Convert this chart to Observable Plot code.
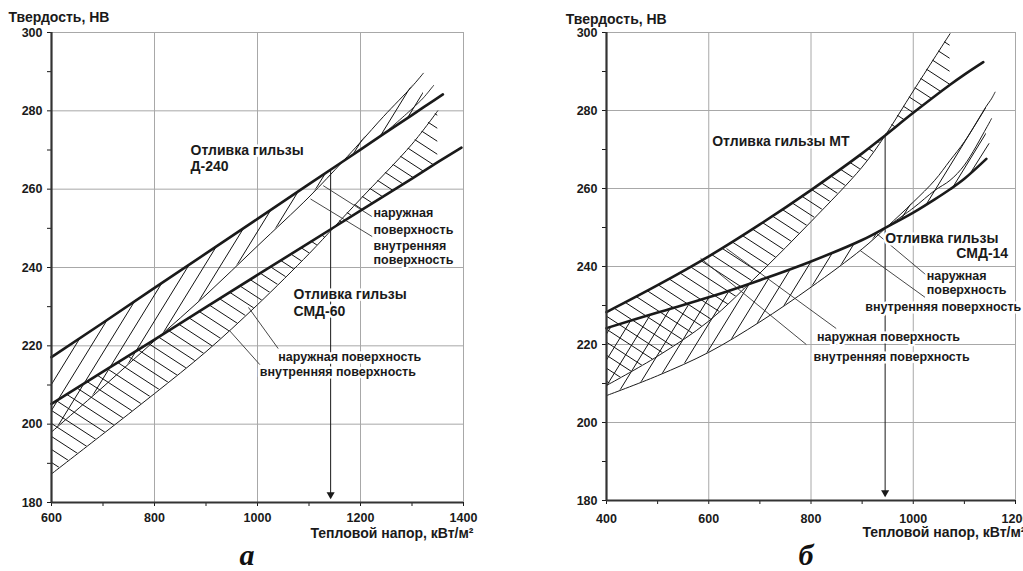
<!DOCTYPE html>
<html><head><meta charset="utf-8">
<script src="https://cdn.jsdelivr.net/npm/d3@7"></script>
<script src="https://cdn.jsdelivr.net/npm/@observablehq/plot@0.6"></script>
<style>
body{margin:0;background:#fff;width:1023px;height:571px;overflow:hidden;position:relative;font-family:"Liberation Sans",Arial,sans-serif;}
#pa,#pb{position:absolute;top:0}
#pa{left:0}
#pb{left:540px;width:483px;overflow:hidden}
.lab{position:absolute;width:40px;text-align:center;font-family:"Liberation Serif","Times New Roman",serif;font-style:italic;font-weight:bold;font-size:30px;line-height:28px;color:#111}
</style></head><body>
<svg width="0" height="0" style="position:absolute">
<defs>
<pattern id="hatchBack" patternUnits="userSpaceOnUse" width="20" height="13">
<path d="M0,0L20,13M-20,0L0,13M20,0L40,13M0,-13L20,0M0,13L20,26" stroke="#111" stroke-width="1" fill="none"/>
</pattern>
<pattern id="hatchSteep" patternUnits="userSpaceOnUse" width="16" height="26">
<path d="M0,26L16,0M-16,26L0,0M16,26L32,0M0,52L16,26M0,0L16,-26" stroke="#111" stroke-width="1" fill="none"/>
</pattern>
</defs></svg>
<div id="pa"></div>
<div id="pb"></div>
<div class="lab" style="left:227px;top:541px">а</div>
<div class="lab" style="left:786px;top:541px">б</div>
<script>
// ---------- common ticks ----------
const yTicks = [180, 200, 220, 240, 260, 280, 300];
const yAll = [180, 190, 200, 210, 220, 230, 240, 250, 260, 270, 280, 290, 300];
const xTicksA = [600, 800, 1000, 1200, 1400];
const xAllA = [600, 700, 800, 900, 1000, 1100, 1200, 1300, 1400];
const xTicksB = [400, 600, 800, 1000, 1200];
const xAllB = [400, 500, 600, 700, 800, 900, 1000, 1100, 1200];
const yTitle = "Твердость, НВ";
const xTitle = "Тепловой напор, кВт/м²";

// ---------- panel а ----------
const xD240 = [600, 700, 800, 900, 1000, 1100, 1165, 1200, 1245, 1300, 1322, 1342, 1360];
const d240Thick = [217.1, 225.9, 234.8, 243.6, 252.4, 261.3, 267, 270.1, 274.1, 278.9, 280.9, 282.6, 284.2];
const d240Thin1 = [198, 209.5, 221.3, 233, 245.5, 258, 267, 272, 278.6, 286.2, 289.6, null, null];
const d240Thin2 = [null, null, null, null, null, null, null, null, 274.1, 280.5, 283.3, 286.5, null];
const xS60 = [600, 700, 800, 900, 1000, 1100, 1150, 1200, 1300, 1350, 1396];
const s60Thick = [205.2, 213.4, 221.6, 229.9, 238.1, 246.3, 250.4, 254.5, 262.7, 266.9, 270.6];
const s60Thin = [187.3, 197.5, 207.8, 218.5, 230.5, 243.5, 250.5, 257.5, 271.5, 280, null];
const arrowA = [{x: 1142, y1: 265, y2: 181.5, tip: 182}];
const leadersA = [
  {x1: 1127.6, y1: 260.9, x2: 1225.8, y2: 252.7},
  {x1: 1102.9, y1: 257.5, x2: 1222.7, y2: 247.9},
  {x1: 982.5, y1: 229.8, x2: 1040.2, y2: 219.3},
  {x1: 945.6, y1: 223.9, x2: 1004.5, y2: 215.2}
];
const bigLabelsA = [
  {t: "Отливка гильзы", x: 869.9, y: 269.9},
  {t: "Д-240", x: 869.9, y: 265.8},
  {t: "Отливка гильзы", x: 1069.9, y: 233.1},
  {t: "СМД-60", x: 1069.9, y: 228.8}
];
const smallLabelsA = [
  {t: "наружная", x: 1225.2, y: 253.8},
  {t: "поверхность", x: 1225.2, y: 249.7},
  {t: "внутренняя", x: 1225.2, y: 245.6},
  {t: "поверхность", x: 1225.2, y: 241.8},
  {t: "наружная поверхность", x: 1040.2, y: 217.1},
  {t: "внутренняя поверхность", x: 1004.5, y: 213.3}
];

// ---------- panel б ----------
const xMT = [400, 500, 600, 700, 800, 900, 945, 1000, 1072, 1100, 1137];
const mtThick = [228.3, 235.2, 242.6, 250.8, 259.6, 269, 273.6, 279.4, 286.6, 289.2, 292.4];
const mtThin = [209.5, 217, 226, 238.3, 251.5, 265.5, 273.6, 285, 299.7, null, null];
const xS14 = [400, 500, 600, 700, 800, 900, 948, 1000, 1042, 1072, 1100, 1143, 1153, 1160];
const s14Thick = [224.2, 228.2, 232.1, 236.5, 241.3, 246.8, 250.1, 253.8, 257.2, 259.8, 262.5, 267.6, null, null];
const s14Thin1 = [206.9, 212, 218, 225.8, 234.7, 244.5, 250.1, 256.5, 262.1, 267.2, 272, 281.1, 283, 284.7];
const s14Thin2 = [null, null, null, null, null, null, 250.1, 255, 259.5, 262.1, 266, 275.5, 277.9, null];
const xS14b = [1111, 1148];
const s14Thin3 = [263.8, 271.5];
const arrowB = [{x: 945, y1: 273.6, y2: 181.5, tip: 182}];
const leadersB = [
  {x1: 928.9, y1: 248.4, x2: 1026.3, y2: 237.7},
  {x1: 896.2, y1: 244.1, x2: 1023, y2: 232.1},
  {x1: 634.7, y1: 244.6, x2: 849.3, y2: 224.1},
  {x1: 584, y1: 242.1, x2: 790.8, y2: 220}
];
const bigLabelsB = [
  {t: "Отливка гильзы МТ", x: 606.8, y: 272.1},
  {t: "Отливка гильзы", x: 945, y: 247.1}
];
const bigLabelsBEnd = [
  {t: "СМД-14", x: 1185.6, y: 243.3}
];
const smallLabelsB = [
  {t: "наружная", x: 1026.3, y: 237.6},
  {t: "поверхность", x: 1026.3, y: 234},
  {t: "внутренняя поверхность", x: 906, y: 229.6},
  {t: "наружная поверхность", x: 811.7, y: 221.8},
  {t: "внутренняя поверхность", x: 805, y: 216.9}
];

// ---------- helpers ----------
function table(xs, cols) {
  return xs.map((x, i) => {
    const r = {x};
    for (const k in cols) r[k] = cols[k][i];
    return r;
  });
}
const ink = "#1a1a1a";
const gridC = "#a8a8a8";
const font = "Liberation Sans, Arial, sans-serif";
const style = {fontFamily: font, fontSize: "12.5px", fontWeight: "bold", background: "transparent", color: ink, overflow: "visible"};
const lbl = {fontWeight: "bold", fill: ink, stroke: "white", strokeWidth: 5};

function commonMarks(xGrid, xAll, xTicks, tickPadX, xTitleD, yTitleD) {
  return {
    grid: [
      Plot.gridX(xGrid, {stroke: gridC, strokeOpacity: 1, strokeWidth: 1}),
      Plot.gridY([200, 220, 240, 260, 280, 300], {stroke: gridC, strokeOpacity: 1, strokeWidth: 1})
    ],
    axes: [
      Plot.axisX(xAll, {tickSize: 4, tickPadding: tickPadX, label: null, tickFormat: d => xTicks.includes(d) ? String(d) : "", fontSize: 12.5, fontWeight: "bold"}),
      Plot.axisY(yAll, {tickSize: 4, tickPadding: 5, label: null, tickFormat: d => yTicks.includes(d) ? String(d) : "", fontSize: 12.5, fontWeight: "bold"}),
      Plot.ruleX([xAll[0]], {stroke: "#333", strokeWidth: 2.2}),
      Plot.ruleY([180], {stroke: "#333", strokeWidth: 2.2}),
      Plot.text([yTitle], {text: d => d, frameAnchor: "top-left", dx: yTitleD[0], dy: yTitleD[1], textAnchor: "start", lineAnchor: "middle", fontSize: 14, fontWeight: "bold", fill: ink}),
      Plot.text([xTitle], {text: d => d, frameAnchor: "bottom-right", dx: xTitleD[0], dy: xTitleD[1], textAnchor: "end", lineAnchor: "middle", fontSize: 14, fontWeight: "bold", fill: ink})
    ]
  };
}

// ---------- panel а ----------
const tD240 = table(xD240, {thick: d240Thick, thin1: d240Thin1, thin2: d240Thin2});
const tS60 = table(xS60, {thick: s60Thick, thin: s60Thin});
const cA = commonMarks([800, 1000, 1200, 1400], xAllA, xTicksA, 6.5, [10, 31], [-43, -15]);
const plotA = Plot.plot({
  width: 500, height: 545,
  marginLeft: 51, marginRight: 37, marginTop: 32, marginBottom: 43,
  style,
  x: {domain: [600, 1400]},
  y: {domain: [180, 300]},
  marks: [
    ...cA.grid,
    Plot.areaY(tD240, {x: "x", y1: "thick", y2: "thin1", fill: "url(#hatchSteep)", curve: "catmull-rom"}),
    Plot.areaY(tS60, {x: "x", y1: "thick", y2: "thin", fill: "url(#hatchBack)", curve: "catmull-rom"}),
    Plot.line(tD240, {x: "x", y: "thin1", stroke: ink, strokeWidth: 1, curve: "catmull-rom"}),
    Plot.line(tD240, {x: "x", y: "thin2", stroke: ink, strokeWidth: 0.9, curve: "catmull-rom"}),
    Plot.line(tS60, {x: "x", y: "thin", stroke: ink, strokeWidth: 1, curve: "catmull-rom"}),
    Plot.ruleX(arrowA, {x: "x", y1: "y1", y2: "y2", stroke: ink, strokeWidth: 1}),
    Plot.dot(arrowA, {x: "x", y: "tip", symbol: "triangle", rotate: 180, r: 3, fill: ink, stroke: null}),
    Plot.link(leadersA, {x1: "x1", y1: "y1", x2: "x2", y2: "y2", stroke: "#333", strokeWidth: 0.9}),
    Plot.line(tD240, {x: "x", y: "thick", stroke: ink, strokeWidth: 2.6}),
    Plot.line(tS60, {x: "x", y: "thick", stroke: ink, strokeWidth: 2.6}),
    Plot.text(bigLabelsA, {x: "x", y: "y", text: "t", textAnchor: "start", fontSize: 14, ...lbl}),
    Plot.text(smallLabelsA, {x: "x", y: "y", text: "t", textAnchor: "start", fontSize: 12.5, ...lbl}),
    ...cA.axes
  ]
});
document.getElementById("pa").append(plotA);

// ---------- panel б ----------
const tMT = table(xMT, {thick: mtThick, thin: mtThin});
const tS14 = table(xS14, {thick: s14Thick, thin1: s14Thin1, thin2: s14Thin2});
const tS14b = table(xS14b, {thin3: s14Thin3});
const cB = commonMarks([600, 800, 1000, 1200], xAllB, xTicksB, 9.8, [10, 32.5], [-40.7, -13]);
const plotB = Plot.plot({
  width: 483, height: 545,
  marginLeft: 66, marginRight: 8, marginTop: 32, marginBottom: 45,
  style,
  x: {domain: [400, 1200]},
  y: {domain: [180, 300]},
  marks: [
    ...cB.grid,
    Plot.areaY(tMT, {x: "x", y1: "thick", y2: "thin", fill: "url(#hatchBack)", curve: "catmull-rom"}),
    Plot.areaY(tS14, {x: "x", y1: "thick", y2: "thin1", fill: "url(#hatchSteep)", curve: "catmull-rom"}),
    Plot.line(tMT, {x: "x", y: "thin", stroke: ink, strokeWidth: 1, curve: "catmull-rom"}),
    Plot.line(tS14, {x: "x", y: "thin1", stroke: ink, strokeWidth: 1, curve: "catmull-rom"}),
    Plot.line(tS14, {x: "x", y: "thin2", stroke: ink, strokeWidth: 1, curve: "catmull-rom"}),
    Plot.line(tS14b, {x: "x", y: "thin3", stroke: ink, strokeWidth: 1}),
    Plot.ruleX(arrowB, {x: "x", y1: "y1", y2: "y2", stroke: ink, strokeWidth: 1}),
    Plot.dot(arrowB, {x: "x", y: "tip", symbol: "triangle", rotate: 180, r: 3, fill: ink, stroke: null}),
    Plot.link(leadersB, {x1: "x1", y1: "y1", x2: "x2", y2: "y2", stroke: "#333", strokeWidth: 0.9}),
    Plot.line(tMT, {x: "x", y: "thick", stroke: ink, strokeWidth: 2.6, curve: "catmull-rom"}),
    Plot.line(tS14, {x: "x", y: "thick", stroke: ink, strokeWidth: 2.6, curve: "catmull-rom"}),
    Plot.text(bigLabelsB, {x: "x", y: "y", text: "t", textAnchor: "start", fontSize: 14, ...lbl}),
    Plot.text(bigLabelsBEnd, {x: "x", y: "y", text: "t", textAnchor: "end", fontSize: 14, ...lbl}),
    Plot.text(smallLabelsB, {x: "x", y: "y", text: "t", textAnchor: "start", fontSize: 12.5, ...lbl}),
    ...cB.axes
  ]
});
document.getElementById("pb").append(plotB);
</script>
</body></html>
